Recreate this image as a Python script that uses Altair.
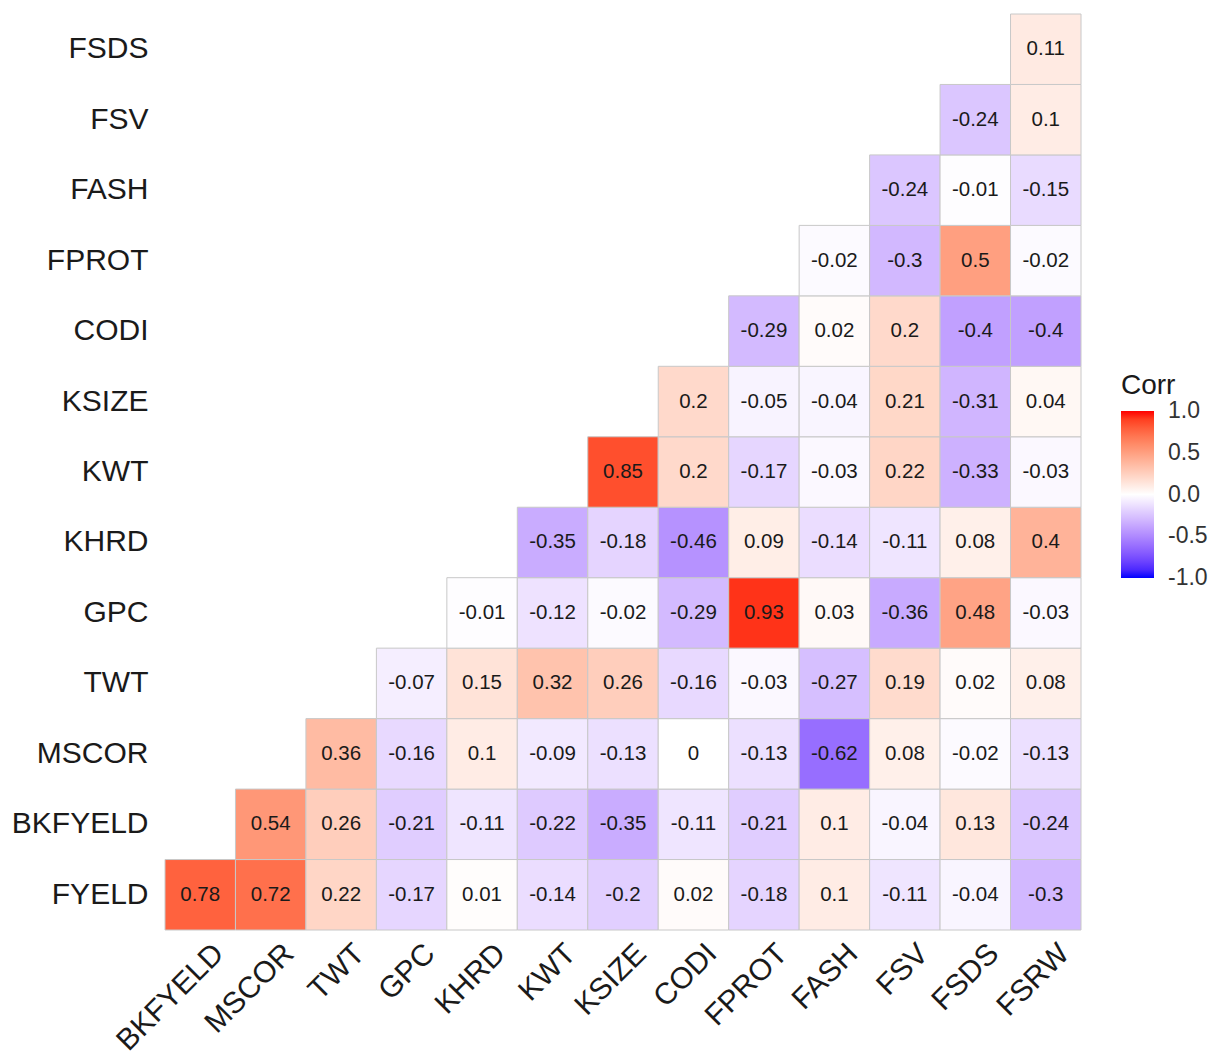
import altair as alt
import pandas as pd

x_vars = ["BKFYELD", "MSCOR", "TWT", "GPC", "KHRD", "KWT", "KSIZE",
          "CODI", "FPROT", "FASH", "FSV", "FSDS", "FSRW"]
# y variables from bottom to top
y_vars = ["FYELD", "BKFYELD", "MSCOR", "TWT", "GPC", "KHRD", "KWT",
          "KSIZE", "CODI", "FPROT", "FASH", "FSV", "FSDS"]

# each row: correlations for x_vars[k:] where k is the row index in y_vars
row_FYELD = [0.78, 0.72, 0.22, -0.17, 0.01, -0.14, -0.2, 0.02, -0.18, 0.1, -0.11, -0.04, -0.3]
row_BKFYELD = [0.54, 0.26, -0.21, -0.11, -0.22, -0.35, -0.11, -0.21, 0.1, -0.04, 0.13, -0.24]
row_MSCOR = [0.36, -0.16, 0.1, -0.09, -0.13, 0, -0.13, -0.62, 0.08, -0.02, -0.13]
row_TWT = [-0.07, 0.15, 0.32, 0.26, -0.16, -0.03, -0.27, 0.19, 0.02, 0.08]
row_GPC = [-0.01, -0.12, -0.02, -0.29, 0.93, 0.03, -0.36, 0.48, -0.03]
row_KHRD = [-0.35, -0.18, -0.46, 0.09, -0.14, -0.11, 0.08, 0.4]
row_KWT = [0.85, 0.2, -0.17, -0.03, 0.22, -0.33, -0.03]
row_KSIZE = [0.2, -0.05, -0.04, 0.21, -0.31, 0.04]
row_CODI = [-0.29, 0.02, 0.2, -0.4, -0.4]
row_FPROT = [-0.02, -0.3, 0.5, -0.02]
row_FASH = [-0.24, -0.01, -0.15]
row_FSV = [-0.24, 0.1]
row_FSDS = [0.11]

rows = [row_FYELD, row_BKFYELD, row_MSCOR, row_TWT, row_GPC, row_KHRD, row_KWT,
        row_KSIZE, row_CODI, row_FPROT, row_FASH, row_FSV, row_FSDS]

# legend tick values (ends nudged inward so labels stay centred on the ends)
legend_values = [-0.9999, -0.5, 0, 0.5, 0.9999]

records = []
for k, (yv, vals) in enumerate(zip(y_vars, rows)):
    for xv, r in zip(x_vars[k:], vals):
        records.append({"x": xv, "y": yv, "r": r, "lab": f"{r:g}"})
df = pd.DataFrame(records)

FONT = "Liberation Sans"

base = alt.Chart(df).encode(
    x=alt.X("x:N", sort=x_vars,
            scale=alt.Scale(domain=x_vars, paddingInner=0, paddingOuter=0),
            axis=alt.Axis(title=None, labelAngle=-45, labelAlign="right",
                          labelBaseline="top", labelFontSize=30, labelFont=FONT,
                          labelColor="#1a1a1a", labelPadding=8, labelOffset=8,
                          ticks=False, tickSize=0, domain=False, grid=False)),
    y=alt.Y("y:N",
            scale=alt.Scale(domain=list(reversed(y_vars)), paddingInner=0, paddingOuter=0),
            axis=alt.Axis(title=None, labelFontSize=30, labelFont=FONT,
                          labelColor="#1a1a1a", labelPadding=17,
                          ticks=False, tickSize=0, domain=False, grid=False)),
)

rect = base.mark_rect(stroke="#c8c8c8", strokeWidth=1).encode(
    color=alt.Color("r:Q",
                    scale=alt.Scale(domain=[-1, 0, 1], range=["#0000FF", "#FFFFFF", "#FF0000"],
                                    interpolate="lab"),
                    legend=alt.Legend(title="Corr", orient="none", legendX=956, legendY=358,
                                      direction="vertical", gradientLength=167,
                                      gradientThickness=33, gradientStrokeWidth=0,
                                      values=legend_values,
                                      labelExpr="datum.value < 0 ? '-' + format(-datum.value, '.1f') : format(datum.value, '.1f')",
                                      labelFontSize=23, labelFont=FONT, labelColor="#333333",
                                      labelOffset=14,
                                      titleFontSize=28, titleFont=FONT,
                                      titleFontWeight="normal", titleColor="#1a1a1a",
                                      titlePadding=11))
)

text = base.mark_text(fontSize=20.5, font=FONT, color="#1a1a1a").encode(text="lab:N")

chart = (rect + text).properties(
    width=916, height=916,
    padding={"left": 3, "top": 5, "right": 0, "bottom": 3},
).configure_view(stroke=None)

chart.save("out.html", embed_options={"renderer": "svg", "actions": False})
